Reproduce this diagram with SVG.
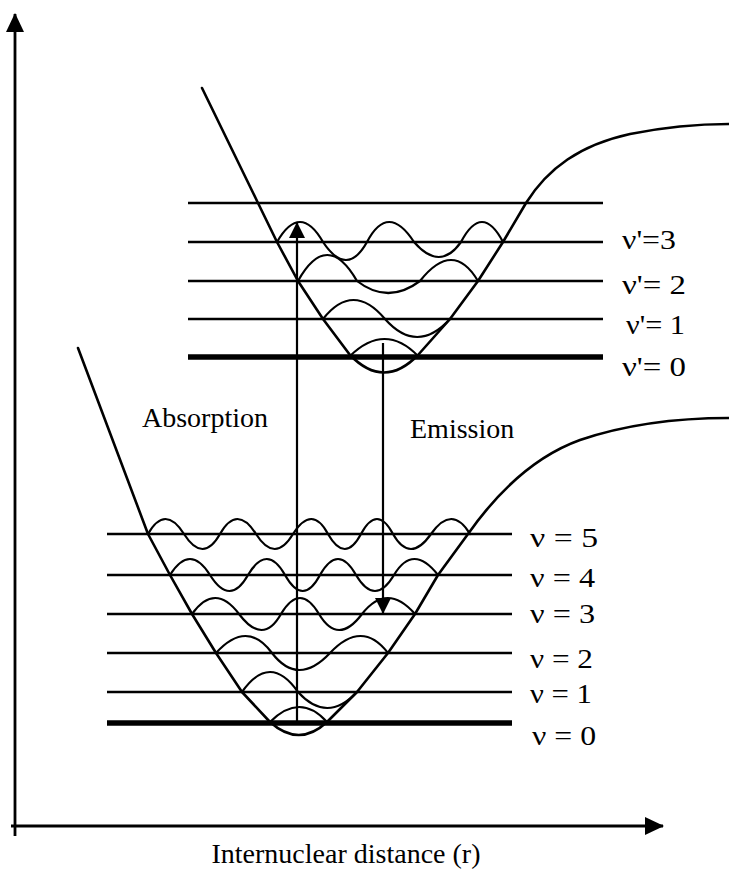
<svg xmlns="http://www.w3.org/2000/svg" width="729" height="870" viewBox="0 0 729 870">
<style>
  .pot { fill: none; stroke: #000; stroke-width: 2.6; stroke-linejoin: round; stroke-linecap: round; }
  .wave { fill: none; stroke: #000; stroke-width: 2.2; stroke-linecap: round; }
  .lvl { stroke: #000; stroke-width: 2.4; }
  .lvl0 { stroke: #000; stroke-width: 5.5; }
  .axis { stroke: #000; stroke-width: 2.8; fill: none; }
  .arr { stroke: #000; stroke-width: 2.2; fill: none; }
  text { font-family: "Liberation Serif", "Times New Roman", serif; fill: #000; }
  .lab { font-size: 28px; }
  .vl { font-size: 27px; }
</style>
<defs>
  <marker id="headS" markerUnits="userSpaceOnUse" markerWidth="16" markerHeight="16" refX="15" refY="8" orient="auto">
    <path d="M0,0 L16,8 L0,16 Z" fill="#000"/>
  </marker>
  <marker id="headL" markerUnits="userSpaceOnUse" markerWidth="19" markerHeight="19" refX="18" refY="9" orient="auto">
    <path d="M0,0 L19,9 L0,18 Z" fill="#000"/>
  </marker>
</defs>

<g id="axes">
  <line class="axis" x1="15" y1="836" x2="15" y2="14" marker-end="url(#headL)"/>
  <line class="axis" x1="11" y1="826" x2="663" y2="826" marker-end="url(#headL)"/>
  <text class="lab" x="346" y="863" text-anchor="middle">Internuclear distance (r)</text>
</g>

<g id="excited-state">
  <g id="excited-levels">
    <line class="lvl" x1="188" y1="203" x2="603" y2="203"/>
    <line class="lvl" x1="188" y1="242" x2="603" y2="242"/>
    <line class="lvl" x1="188" y1="281" x2="603" y2="281"/>
    <line class="lvl" x1="188" y1="319" x2="603" y2="319"/>
    <line class="lvl0" x1="188" y1="357" x2="603" y2="357"/>
  </g>
  <path id="excited-potential" class="pot" d="M202,88 L258,203 L277,242 L298,281 L323,319 L350,355 Q384,390 418,355 L450,319 L478,281 L503,242 L526,203 C548,168 580,145 630,134 C665,127 700,124 729,124"/>
  <g id="excited-waves">
    <path class="wave" d="M277,242 Q300,202 323,242 Q347,278 367,242 Q388,202 414,242 Q440,272 461,242 Q482,202 503,242"/>
    <path class="wave" d="M298,281 Q327,229 357,281 Q388,305 420,281 Q453,239 478,281"/>
    <path class="wave" d="M323,319 Q353,281 385,319 Q417,355 450,319"/>
    <path class="wave" d="M350,356 Q385,322 418,356"/>
  </g>
  <g id="excited-labels">
    <text class="vl" x="622" y="249" textLength="54" lengthAdjust="spacingAndGlyphs">ν'=3</text>
    <text class="vl" x="622" y="294" textLength="64" lengthAdjust="spacingAndGlyphs">ν'= 2</text>
    <text class="vl" x="626" y="334" textLength="59" lengthAdjust="spacingAndGlyphs">ν'= 1</text>
    <text class="vl" x="622" y="376" textLength="64" lengthAdjust="spacingAndGlyphs">ν'= 0</text>
  </g>
</g>

<g id="ground-state">
  <g id="ground-levels">
    <line class="lvl" x1="107" y1="534" x2="512" y2="534"/>
    <line class="lvl" x1="107" y1="575" x2="512" y2="575"/>
    <line class="lvl" x1="107" y1="614" x2="512" y2="614"/>
    <line class="lvl" x1="107" y1="653" x2="512" y2="653"/>
    <line class="lvl" x1="107" y1="692" x2="512" y2="692"/>
    <line class="lvl0" x1="107" y1="723" x2="512" y2="723"/>
  </g>
  <path id="ground-potential" class="pot" d="M78,348 L148,534 L170,575 L192,614 L216,653 L242,692 L270,722 Q299,748 327,722 L357,692 L388,653 L415,614 L438,575 L468,534 C492,500 530,458 580,440 C630,423 680,418 729,418"/>
  <g id="ground-waves">
    <path class="wave" d="M148,534 Q165,504 184,534 Q203,564 220,534 Q237,504 256,534 Q275,564 293,534 Q312,504 328,534 Q345,564 361,534 Q377,504 393,534 Q410,564 431,534 Q452,504 470,534"/>
    <path class="wave" d="M170,575 Q190,543 210,575 Q230,607 248,575 Q267,543 285,575 Q303,607 320,575 Q338,543 356,575 Q375,607 394,575 Q413,543 438,575"/>
    <path class="wave" d="M192,614 Q215,582 239,614 Q263,646 281,614 Q300,582 319,614 Q338,646 362,614 Q387,582 415,614"/>
    <path class="wave" d="M216,653 Q247,619 272,653 Q298,687 330,653 Q362,619 388,653"/>
    <path class="wave" d="M242,692 Q270,652 298,692 Q327,724 357,692"/>
    <path class="wave" d="M270,722 Q300,692 327,722"/>
  </g>
  <g id="ground-labels">
    <text class="lab" x="530" y="547" textLength="68" lengthAdjust="spacingAndGlyphs">ν = 5</text>
    <text class="lab" x="530" y="587" textLength="65" lengthAdjust="spacingAndGlyphs">ν = 4</text>
    <text class="lab" x="530" y="623" textLength="65" lengthAdjust="spacingAndGlyphs">ν = 3</text>
    <text class="lab" x="530" y="668" textLength="63" lengthAdjust="spacingAndGlyphs">ν = 2</text>
    <text class="lab" x="530" y="703" textLength="62" lengthAdjust="spacingAndGlyphs">ν = 1</text>
    <text class="lab" x="532" y="745" textLength="64" lengthAdjust="spacingAndGlyphs">ν = 0</text>
  </g>
</g>

<g id="connectors">
  <line id="absorption-arrow" class="arr" x1="297" y1="723" x2="297" y2="223" marker-end="url(#headS)"/>
  <line id="emission-arrow" class="arr" x1="383" y1="343" x2="383" y2="613" marker-end="url(#headS)"/>
</g>

<g id="transition-labels">
  <text class="lab" x="142" y="427">Absorption</text>
  <text class="lab" x="410" y="438">Emission</text>
</g>
</svg>
